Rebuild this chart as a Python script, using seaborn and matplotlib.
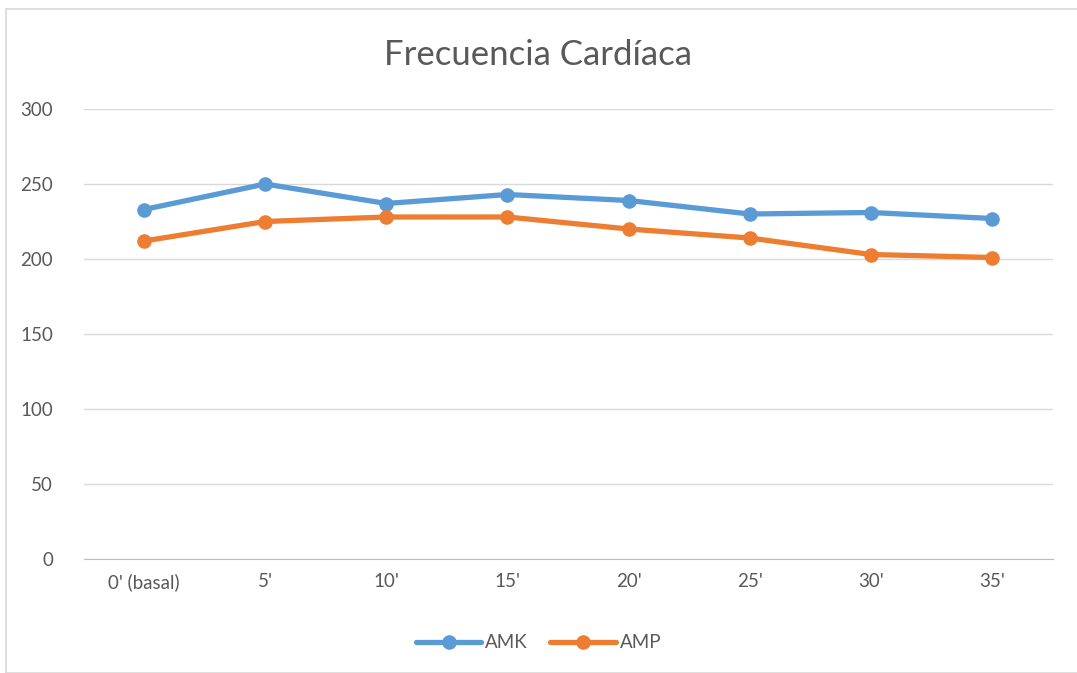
import pandas as pd
import seaborn as sns
import matplotlib.pyplot as plt
from matplotlib.patches import Rectangle

times = ["0' (basal)", "5'", "10'", "15'", "20'", "25'", "30'", "35'"]
amk = [233, 250, 237, 243, 239, 230, 231, 227]
amp = [212, 225, 228, 228, 220, 214, 203, 201]

df = pd.DataFrame({
    'tiempo': times * 2,
    'fc': amk + amp,
    'grupo': ['AMK'] * len(times) + ['AMP'] * len(times),
})

sns.set_style('white')
plt.rcParams['font.family'] = ['Lato', 'DejaVu Sans']

fig = plt.figure(figsize=(10.77, 6.73), dpi=100)
ax = fig.add_axes([83.5 / 1077, 1 - 559 / 673, (1052.5 - 83.5) / 1077, 450 / 673])

palette = {'AMK': '#5B9BD5', 'AMP': '#ED7D31'}
sns.lineplot(data=df, x='tiempo', y='fc', hue='grupo', palette=palette,
             marker='o', markersize=10.5, markeredgewidth=0, linewidth=3.8,
             sort=False, ax=ax, legend=False)

ax.set_xlim(-0.5, len(times) - 0.5)
ax.set_ylim(0, 300)
ax.set_yticks(range(0, 301, 50))
ax.grid(axis='y', color='#D9D9D9', linewidth=1)
ax.set_axisbelow(True)
for s in ['top', 'right', 'left']:
    ax.spines[s].set_visible(False)
ax.spines['bottom'].set_color('#BFBFBF')
ax.tick_params(axis='both', length=0, labelsize=13.5, colors='#595959', pad=10)
ax.tick_params(axis='y', pad=22)
ax.set_xlabel('')
ax.set_ylabel('')

fig.text(0.5, 1 - 55 / 673, 'Frecuencia Cardíaca', ha='center', va='center',
         fontsize=25, color='#595959')

handles = [plt.Line2D([], [], color=palette[g], linewidth=3.8, marker='o',
                      markersize=10.5, markeredgewidth=0) for g in ['AMK', 'AMP']]
fig.legend(handles, ['AMK', 'AMP'], loc='center', bbox_to_anchor=(0.5, 1 - 643 / 673),
           ncol=2, frameon=False, fontsize=13.5, handlelength=3.5, columnspacing=1.2,
           handletextpad=0.2, labelcolor='#595959')

fig.patches.append(Rectangle((6 / 1077, 0), 1.2, 1 - 9 / 673, transform=fig.transFigure,
                             fill=False, edgecolor='#D9D9D9', linewidth=1.2))

fig.savefig('out.png', dpi=100)
